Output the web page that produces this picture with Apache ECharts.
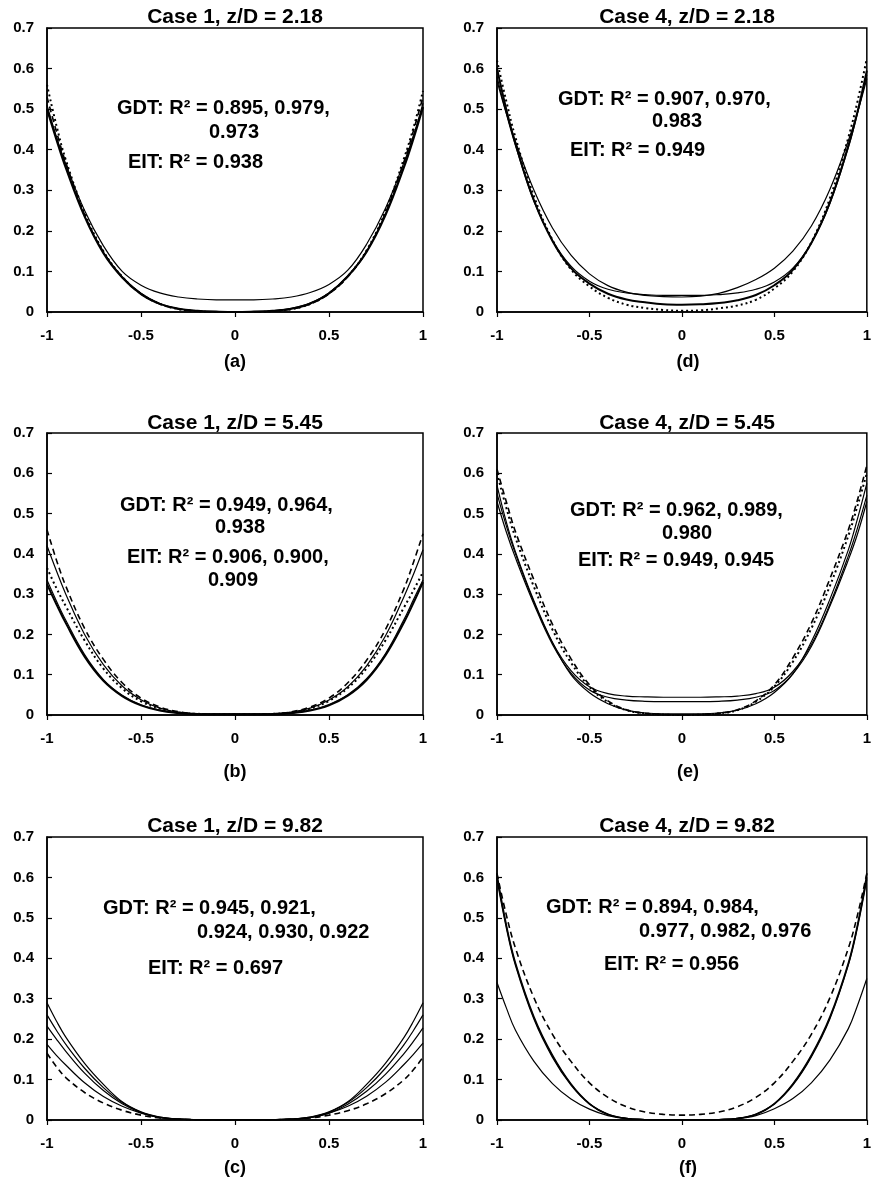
<!DOCTYPE html>
<html><head><meta charset="utf-8">
<script src="https://cdn.jsdelivr.net/npm/echarts@6/dist/echarts.min.js"></script>
<style>html,body{margin:0;padding:0;background:#fff}#c{width:874px;height:1190px}</style>
</head><body><div id="c"></div>
<script>
// ---- data ----
const xs = [-1,-0.95,-0.9,-0.8,-0.7,-0.6,-0.5,-0.4,-0.3,-0.2,-0.1,0,0.1,0.2,0.3,0.4,0.5,0.6,0.7,0.8,0.9,0.95,1];
const xTicks = [-1,-0.5,0,0.5,1];
const yTicks = [0,0.1,0.2,0.3,0.4,0.5,0.6,0.7];
const titles = ['Case 1, z/D = 2.18','Case 1, z/D = 5.45','Case 1, z/D = 9.82','Case 4, z/D = 2.18','Case 4, z/D = 5.45','Case 4, z/D = 9.82'];
const labels = ['(a)','(b)','(c)','(d)','(e)','(f)'];

// (a) Case 1, z/D = 2.18
const a_s1 = [0.50,0.43,0.365,0.25,0.163,0.10,0.066,0.047,0.037,0.032,0.030,0.030,0.030,0.032,0.037,0.048,0.068,0.103,0.167,0.255,0.37,0.435,0.505];
const a_s2 = [0.50,0.425,0.355,0.235,0.145,0.085,0.044,0.020,0.008,0.003,0.001,0,0.001,0.003,0.008,0.021,0.046,0.088,0.148,0.238,0.358,0.428,0.505];
const a_s3 = [0.51,0.432,0.36,0.238,0.148,0.087,0.046,0.021,0.008,0.003,0.001,0,0.001,0.003,0.009,0.022,0.047,0.089,0.15,0.242,0.362,0.435,0.515];
const a_d1 = [0.56,0.46,0.375,0.245,0.15,0.087,0.045,0.020,0.007,0.002,0,0,0,0.002,0.007,0.02,0.046,0.088,0.152,0.248,0.38,0.455,0.545];
const a_d2 = [0.53,0.445,0.368,0.24,0.148,0.086,0.045,0.02,0.007,0.002,0,0,0,0.002,0.007,0.02,0.045,0.087,0.15,0.244,0.372,0.448,0.53];

// (b) Case 1, z/D = 5.45
const b_s1 = [0.325,0.275,0.228,0.145,0.085,0.047,0.024,0.011,0.005,0.002,0.002,0.002,0.002,0.002,0.005,0.011,0.024,0.048,0.087,0.148,0.231,0.279,0.33];
const b_s2 = [0.335,0.283,0.235,0.15,0.088,0.049,0.025,0.012,0.005,0.002,0.002,0.002,0.002,0.002,0.005,0.012,0.026,0.05,0.09,0.152,0.238,0.287,0.335];
const b_s3 = [0.42,0.358,0.30,0.20,0.125,0.072,0.038,0.017,0.007,0.003,0.002,0.002,0.002,0.003,0.007,0.017,0.037,0.07,0.122,0.196,0.295,0.35,0.41];
const b_d1 = [0.46,0.385,0.32,0.215,0.138,0.08,0.042,0.02,0.008,0.003,0.002,0.002,0.002,0.003,0.008,0.02,0.042,0.08,0.136,0.212,0.315,0.38,0.45];
const b_d2 = [0.365,0.315,0.27,0.185,0.115,0.066,0.034,0.016,0.006,0.003,0.002,0.002,0.002,0.003,0.006,0.016,0.035,0.067,0.116,0.185,0.268,0.31,0.355];

// (c) Case 1, z/D = 9.82
const c_s1 = [0.29,0.245,0.205,0.14,0.088,0.045,0.02,0.007,0.002,0.0005,0,0,0,0.0005,0.002,0.007,0.02,0.045,0.088,0.14,0.205,0.245,0.29];
const c_s2 = [0.26,0.222,0.187,0.128,0.08,0.043,0.019,0.007,0.002,0.0005,0,0,0,0.0005,0.002,0.007,0.019,0.043,0.08,0.128,0.187,0.222,0.26];
const c_s3 = [0.232,0.2,0.17,0.116,0.073,0.04,0.018,0.006,0.002,0.0005,0,0,0,0.0005,0.002,0.006,0.017,0.039,0.071,0.113,0.165,0.195,0.228];
const c_s4 = [0.187,0.16,0.136,0.092,0.058,0.034,0.017,0.006,0.002,0.0005,0,0,0,0.0005,0.002,0.006,0.017,0.034,0.059,0.093,0.138,0.163,0.19];
const c_d1 = [0.165,0.132,0.105,0.068,0.042,0.024,0.012,0.005,0.002,0.0005,0,0,0,0.0005,0.002,0.005,0.012,0.023,0.04,0.065,0.1,0.125,0.155];

// (d) Case 4, z/D = 2.18
const d_s1 = [0.57,0.49,0.42,0.30,0.207,0.14,0.094,0.065,0.049,0.041,0.038,0.037,0.039,0.046,0.06,0.08,0.108,0.15,0.212,0.302,0.422,0.492,0.575];
const d_s2 = [0.58,0.49,0.41,0.272,0.177,0.113,0.076,0.056,0.047,0.043,0.041,0.041,0.041,0.043,0.047,0.056,0.074,0.108,0.17,0.267,0.405,0.49,0.585];
const d_s3 = [0.60,0.50,0.415,0.275,0.175,0.108,0.07,0.045,0.031,0.024,0.019,0.018,0.019,0.022,0.029,0.042,0.066,0.104,0.17,0.27,0.41,0.495,0.595];
const d_d1 = [0.62,0.52,0.43,0.285,0.178,0.105,0.063,0.035,0.018,0.01,0.005,0.003,0.004,0.009,0.016,0.03,0.058,0.1,0.172,0.28,0.43,0.52,0.625];

// (e) Case 4, z/D = 5.45
const e_s1 = [0.55,0.47,0.40,0.28,0.18,0.11,0.07,0.053,0.047,0.045,0.044,0.044,0.044,0.045,0.047,0.053,0.069,0.108,0.175,0.275,0.395,0.465,0.545];
const e_s2 = [0.53,0.455,0.39,0.275,0.175,0.104,0.062,0.044,0.037,0.034,0.033,0.033,0.033,0.034,0.037,0.044,0.061,0.102,0.17,0.27,0.385,0.45,0.53];
const e_s3 = [0.57,0.48,0.405,0.283,0.18,0.10,0.055,0.028,0.012,0.005,0.003,0.003,0.003,0.005,0.012,0.028,0.056,0.102,0.182,0.287,0.41,0.488,0.575];
const e_d1 = [0.61,0.53,0.455,0.335,0.225,0.14,0.075,0.035,0.013,0.004,0.001,0,0.001,0.004,0.013,0.035,0.075,0.142,0.228,0.338,0.46,0.535,0.62];
const e_d2 = [0.60,0.515,0.44,0.318,0.212,0.13,0.07,0.032,0.012,0.004,0.001,0,0.001,0.004,0.012,0.033,0.071,0.132,0.215,0.32,0.445,0.52,0.60];

// (f) Case 4, z/D = 9.82
const f_s1 = [0.60,0.48,0.385,0.252,0.158,0.088,0.04,0.014,0.004,0.001,0,0,0,0.001,0.004,0.014,0.04,0.088,0.158,0.252,0.385,0.48,0.60];
const f_s2 = [0.595,0.476,0.382,0.249,0.155,0.086,0.039,0.013,0.004,0.001,0,0,0,0.001,0.004,0.013,0.039,0.086,0.156,0.25,0.383,0.477,0.595];
const f_s3 = [0.61,0.486,0.39,0.256,0.161,0.09,0.041,0.015,0.004,0.001,0,0,0,0.001,0.004,0.015,0.041,0.09,0.161,0.256,0.39,0.486,0.61];
const f_s4 = [0.34,0.278,0.222,0.145,0.09,0.052,0.027,0.011,0.003,0.001,0,0,0,0.001,0.003,0.011,0.028,0.053,0.092,0.148,0.226,0.284,0.35];
const f_d1 = [0.61,0.508,0.425,0.302,0.212,0.145,0.092,0.056,0.033,0.02,0.014,0.012,0.014,0.02,0.033,0.056,0.092,0.145,0.212,0.302,0.425,0.508,0.61];

// annotation texts
const notesA = ['GDT: R\u00B2 = 0.895, 0.979,','0.973','EIT: R\u00B2 = 0.938'];
const notesB = ['GDT: R\u00B2 = 0.949, 0.964,','0.938','EIT: R\u00B2 = 0.906, 0.900,','0.909'];
const notesC = ['GDT: R\u00B2 = 0.945, 0.921,','0.924, 0.930, 0.922','EIT: R\u00B2 = 0.697'];
const notesD = ['GDT: R\u00B2 = 0.907, 0.970,','0.983','EIT: R\u00B2 = 0.949'];
const notesE = ['GDT: R\u00B2 = 0.962, 0.989,','0.980','EIT: R\u00B2 = 0.949, 0.945'];
const notesF = ['GDT: R\u00B2 = 0.894, 0.984,','0.977, 0.982, 0.976','EIT: R\u00B2 = 0.956'];

// ---- layout & styling ----
const FONT = '"Liberation Sans", Arial, Helvetica, sans-serif';
const colLeft = [47, 497];
const rowTop = [28, 433, 837];
const rowH = [284, 282, 283];
const plotW = 376;
const styles = {
  thin:  {width: 1.2, type: 'solid'},
  thick: {width: 2.0, type: 'solid'},
  dash:  {width: 1.6, type: [6, 4]},
  dot:   {width: 2.0, type: [2, 3]}
};
const panels = [
  {col:0,row:0,title:titles[0],label:labels[0],curves:[[a_s1,'thin'],[a_s2,'thick'],[a_s3,'thin'],[a_d1,'dot'],[a_d2,'dash']],
   notes:[[notesA[0],117,108,'left'],[notesA[1],234,132,'center'],[notesA[2],128,162,'left']]},
  {col:0,row:1,title:titles[1],label:labels[1],curves:[[b_s1,'thick'],[b_s2,'thin'],[b_s3,'thin'],[b_d1,'dash'],[b_d2,'dot']],
   notes:[[notesB[0],120,505,'left'],[notesB[1],240,527,'center'],[notesB[2],127,557,'left'],[notesB[3],233,580,'center']]},
  {col:0,row:2,title:titles[2],label:labels[2],curves:[[c_s1,'thin'],[c_s2,'thin'],[c_s3,'thin'],[c_s4,'thin'],[c_d1,'dash']],
   notes:[[notesC[0],103,908,'left'],[notesC[1],197,932,'left'],[notesC[2],148,968,'left']]},
  {col:1,row:0,title:titles[3],label:labels[3],curves:[[d_s1,'thin'],[d_s2,'thin'],[d_s3,'thick'],[d_d1,'dot']],
   notes:[[notesD[0],558,99,'left'],[notesD[1],677,121,'center'],[notesD[2],570,150,'left']]},
  {col:1,row:1,title:titles[4],label:labels[4],curves:[[e_s1,'thin'],[e_s2,'thin'],[e_s3,'thin'],[e_d1,'dash'],[e_d2,'dot']],
   notes:[[notesE[0],570,510,'left'],[notesE[1],687,533,'center'],[notesE[2],578,560,'left']]},
  {col:1,row:2,title:titles[5],label:labels[5],curves:[[f_s1,'thin'],[f_s2,'thin'],[f_s3,'thin'],[f_s4,'thin'],[f_d1,'dash']],
   notes:[[notesF[0],546,907,'left'],[notesF[1],639,931,'left'],[notesF[2],604,964,'left']]}
];
const titleY = [17, 423, 826];
const labelY = [362, 772, 1168];

const grid = [], xAxis = [], yAxis = [], series = [], graphic = [];
panels.forEach((p, i) => {
  const left = colLeft[p.col], top = rowTop[p.row], h = rowH[p.row];
  grid.push({left, top, width: plotW, height: h, show: true, borderColor: '#000', borderWidth: 1.5, backgroundColor: 'rgba(0,0,0,0)'});
  xAxis.push({gridIndex: i, type: 'value', min: xTicks[0], max: xTicks[xTicks.length-1], interval: 0.5,
    axisLine: {show: true, onZero: false, lineStyle: {color: '#000', width: 1.5}},
    axisTick: {show: true, inside: false, length: 5, lineStyle: {color: '#000', width: 1.2}},
    axisLabel: {color: '#000', fontWeight: 'bold', fontSize: 15, fontFamily: FONT, margin: 16},
    splitLine: {show: false}});
  yAxis.push({gridIndex: i, type: 'value', position: 'left', min: yTicks[0], max: yTicks[yTicks.length-1], interval: 0.1,
    axisLine: {show: true, onZero: false, lineStyle: {color: '#000', width: 1.5}},
    axisTick: {show: true, inside: true, length: 5, lineStyle: {color: '#000', width: 1.2}},
    axisLabel: {color: '#000', fontWeight: 'bold', fontSize: 15, fontFamily: FONT, margin: 13},
    splitLine: {show: false}});
  p.curves.forEach(([ys, st]) => {
    const s = styles[st];
    series.push({type: 'line', xAxisIndex: i, yAxisIndex: i, data: xs.map((x, k) => [x, ys[k]]),
      smooth: 0.4, symbol: 'none', showSymbol: false, silent: true, clip: true,
      lineStyle: {color: '#000', width: s.width, type: s.type}});
  });
  const cx = left + plotW / 2;
  graphic.push({type: 'text', x: cx + (p.col ? 2 : 0), y: titleY[p.row], silent: true,
    style: {text: p.title, font: `bold 21px ${FONT}`, fill: '#000', textAlign: 'center', textVerticalAlign: 'middle', align: 'center', verticalAlign: 'middle'}});
  graphic.push({type: 'text', x: cx + (p.col ? 3 : 0), y: labelY[p.row], silent: true,
    style: {text: p.label, font: `bold 18px ${FONT}`, fill: '#000', textAlign: 'center', textVerticalAlign: 'middle', align: 'center', verticalAlign: 'middle'}});
  p.notes.forEach(([t, x, y, al]) => {
    graphic.push({type: 'text', x, y, silent: true,
      style: {text: t, font: `bold 20px ${FONT}`, fill: '#000', textAlign: al, textVerticalAlign: 'middle', align: al, verticalAlign: 'middle'}});
  });
});

const chart = echarts.init(document.getElementById('c'), null, {renderer: 'canvas'});
chart.setOption({animation: false, backgroundColor: '#fff', grid, xAxis, yAxis, series, graphic});
</script></body></html>
